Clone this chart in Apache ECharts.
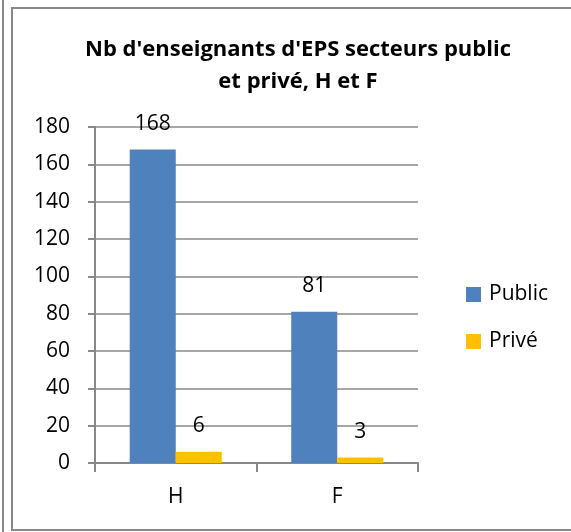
<!DOCTYPE html>
<html>
<head>
<meta charset="utf-8">
<script src="https://cdn.jsdelivr.net/npm/echarts@6/dist/echarts.min.js"></script>
<style>
html, body { margin: 0; padding: 0; background: #fff; }
#main { width: 571px; height: 532px; }
</style>
</head>
<body>
<div id="main"></div>
<script>
var categories = ['H', 'F'];
var publicValues = [168, 81];
var priveValues = [6, 3];
var yTicks = [0, 20, 40, 60, 80, 100, 120, 140, 160, 180];

var font = '"Open Sans", sans-serif';
var chart = echarts.init(document.getElementById('main'));
var option = {
    animation: false,
    color: ['#4F81BD', '#FFC000'],
    title: {
        text: "Nb d'enseignants d'EPS secteurs public\net privé, H et F",
        left: 293,
        textAlign: 'center',
        top: 29,
        textStyle: { fontFamily: font, fontWeight: 'bold', fontSize: 22, lineHeight: 32, color: '#000' }
    },
    legend: {
        orient: 'vertical',
        left: 461,
        top: 279,
        itemWidth: 15,
        itemHeight: 15,
        itemGap: 26,
        icon: 'rect',
        textStyle: { fontFamily: font, fontSize: 21, color: '#000', padding: [0, 0, 0, 3] },
        data: ['Public', 'Privé']
    },
    grid: { left: 95, right: 153, top: 127, bottom: 69 },
    xAxis: {
        type: 'category',
        data: categories,
        axisLine: { lineStyle: { color: '#888', width: 2 } },
        axisTick: { show: true, interval: 0, length: 9, lineStyle: { color: '#888', width: 2 } },
        axisLabel: { fontFamily: font, fontSize: 21, color: '#000', margin: 24 }
    },
    yAxis: {
        type: 'value',
        min: yTicks[0],
        max: yTicks[yTicks.length - 1],
        interval: yTicks[1] - yTicks[0],
        axisLine: { show: true, lineStyle: { color: '#888', width: 2 } },
        axisTick: { show: true, length: 7, lineStyle: { color: '#888', width: 2 } },
        splitLine: { lineStyle: { color: '#888', width: 1.5 } },
        axisLabel: { fontFamily: font, fontSize: 21, color: '#000', margin: 25 }
    },
    series: [
        {
            name: 'Public',
            type: 'bar',
            data: publicValues,
            barGap: '0%',
            barCategoryGap: '43%',
            label: { show: true, position: 'top', distance: 15, fontFamily: font, fontSize: 21, color: '#000' }
        },
        {
            name: 'Privé',
            type: 'bar',
            data: priveValues,
            label: { show: true, position: 'top', distance: 15, fontFamily: font, fontSize: 21, color: '#000' }
        }
    ],
    graphic: [
        { type: 'rect', shape: { x: 12, y: 8, width: 570, height: 522 }, style: { fill: 'none', stroke: '#888', lineWidth: 2 }, silent: true },
        { type: 'line', shape: { x1: 3, y1: 0, x2: 3, y2: 532 }, style: { stroke: '#888', lineWidth: 2 }, silent: true }
    ]
};
chart.setOption(option);
</script>
</body>
</html>
